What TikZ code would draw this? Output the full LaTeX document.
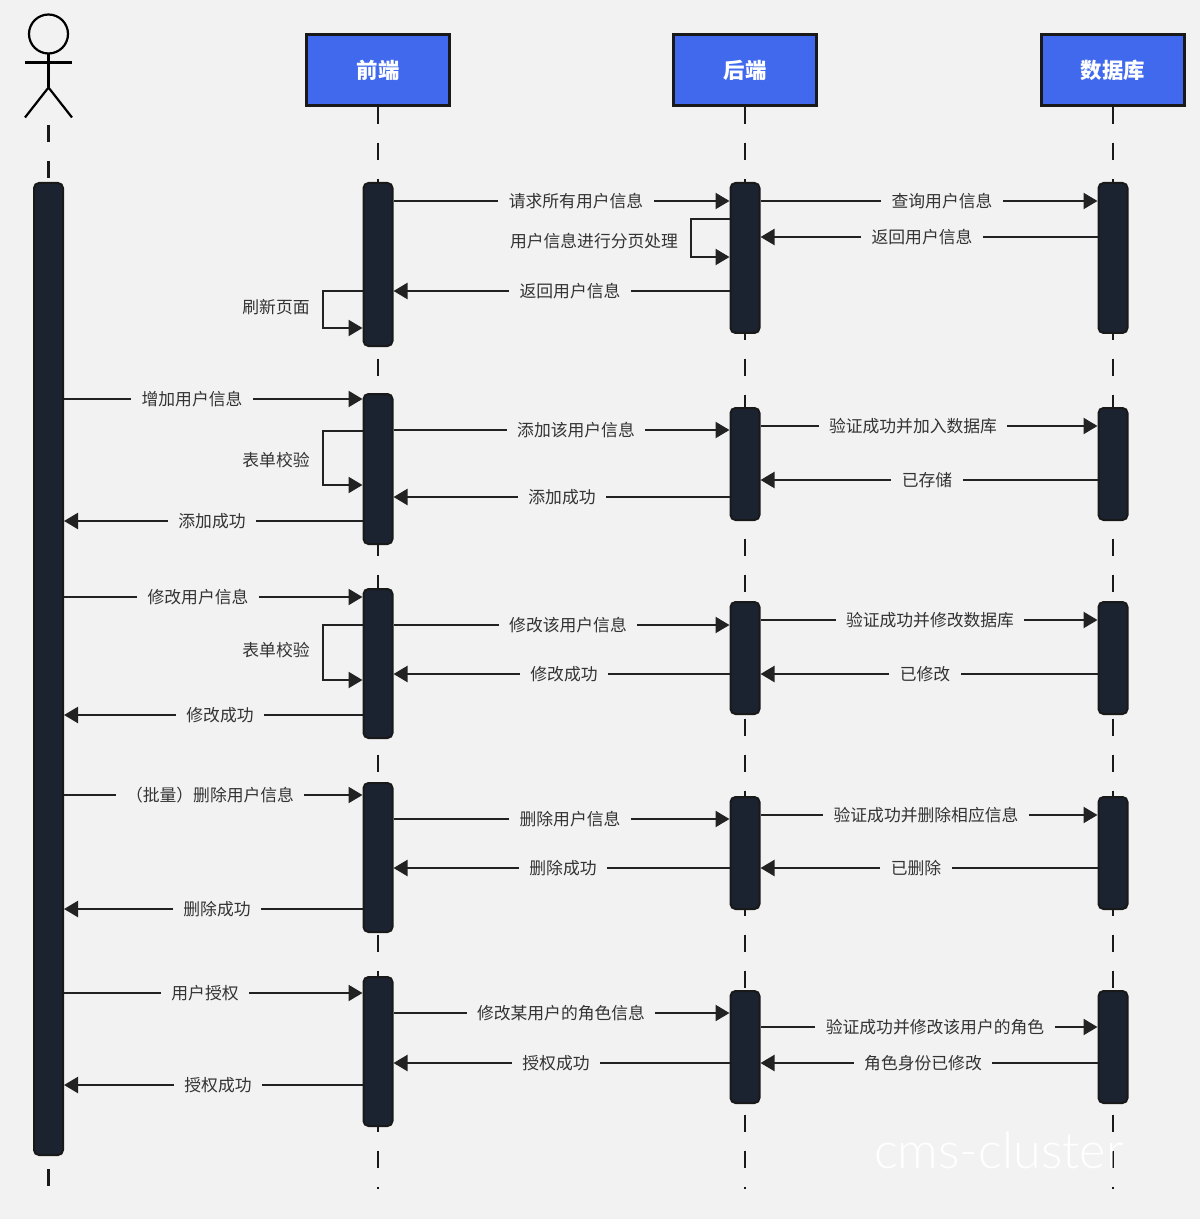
\documentclass[tikz,border=0pt]{standalone}
\usepackage{fontspec}
\setmainfont{Noto Sans CJK SC}
\newfontfamily\wmfont{Lato Light}
\usetikzlibrary{arrows.meta}
\definecolor{bgc}{HTML}{F2F2F2}
\definecolor{ink}{HTML}{222222}
\definecolor{hdr}{HTML}{4169EE}
\definecolor{barfill}{HTML}{1B2330}
\definecolor{txt}{HTML}{333333}
\tikzset{
  header/.style={draw=black!90,line width=1.1pt,fill=hdr,text=white,minimum width=71.5pt,minimum height=35.5pt,inner sep=0pt,font=\fontsize{10.7}{12}\selectfont\bfseries},
  bar/.style={draw=black!90,line width=1pt,fill=barfill,rounded corners=2.5pt,minimum width=14.5pt,inner sep=0pt},
  life/.style={draw=black!90,line width=1.1pt,dash pattern=on 8.5pt off 9.5pt},
  msg/.style={draw=ink,line width=1.1pt,-{Triangle[length=7pt,width=8pt]}},
  lab/.style={fill=bgc,text=txt,inner xsep=5.2pt,inner ysep=0.5pt,yshift=-0.1pt,font=\fontsize{8.4}{10}\selectfont},
  looplab/.style={text=txt,inner sep=0pt,yshift=-0.1pt,font=\fontsize{8.4}{10}\selectfont},
  stick/.style={draw=black,line width=1.1pt},
}
\newcommand{\actbar}[4]{%
  \pgfmathsetmacro{\barmid}{(#3+#4)/2}\pgfmathsetmacro{\barh}{(#4-#3)*0.5}%
  \node[bar,minimum height=\barh pt] (#1) at (#2,\barmid) {};}
\newcommand{\msgR}[5]{%
  \draw[msg] (#1.east |- 0,#3) -- (#2.west |- 0,#3);
  \node[lab] (l-#1-#3) at (#4,#3) {#5};}
\newcommand{\msgL}[5]{%
  \draw[msg] (#1.west |- 0,#3) -- (#2.east |- 0,#3);
  \node[lab] (l-#1-#3) at (#4,#3) {#5};}
\newcommand{\selfmsg}[7]{%
  \coordinate (c-#1-#2) at (#4,#2);
  \coordinate (d-#1-#2) at (#4,#3);
  \draw[msg] (#1.west |- 0,#2) -- (c-#1-#2) -- (d-#1-#2) -- (#1.west |- 0,#3);
  \node[looplab] (s-#1-#2) at (#5,#6) {#7};}
\begin{document}
\begin{tikzpicture}[x=0.5pt,y=-0.5pt]
\fill[bgc] (0,0) rectangle (1200,1219);
\useasboundingbox (0,0) rectangle (1200,1219);
% headers
\node[header] (front) at (378,70) {\raisebox{0.5pt}{前端}};
\node[header] (back) at (745,70) {\raisebox{0.5pt}{后端}};
\node[header] (db) at (1113,70) {\raisebox{0.5pt}{数据库}};
% actor
\coordinate (head) at (48.5,34);
\coordinate (neck) at (48.5,53.5);
\coordinate (shL) at (25,62.5);
\coordinate (shR) at (72,62.5);
\coordinate (hip) at (48.5,87.5);
\coordinate (legL) at (25,117.5);
\coordinate (legR) at (72,117.5);
\draw[stick] (head) circle[radius=19.5];
\draw[stick] (neck) -- (hip);
\draw[stick] (shL) -- (shR);
\draw[stick] (legL) -- (hip) -- (legR);
% lifelines
\coordinate (userTop) at (48.5,125);
\coordinate (userEnd) at (48.5,1188);
\coordinate (frontEnd) at (378,1189);
\coordinate (backEnd) at (745,1189);
\coordinate (dbEnd) at (1113,1189);
\draw[life] (userTop) -- (userEnd);
\draw[life] (front.south) -- (frontEnd);
\draw[life] (back.south) -- (backEnd);
\draw[life] (db.south) -- (dbEnd);
% watermark
\node[text=white,inner sep=0pt,font=\wmfont\fontsize{25.2}{28}\selectfont] (wm) at (999,1150) {cms-cluster};
% activations
\actbar{u}{48.5}{183}{1155}
\actbar{fa}{378}{183}{346}
\actbar{fb}{378}{394}{544}
\actbar{fc}{378}{589}{738}
\actbar{fd}{378}{783}{932}
\actbar{fe}{378}{977}{1126}
\actbar{ba}{745}{183}{333}
\actbar{bb}{745}{408}{520}
\actbar{bc}{745}{602}{714}
\actbar{bd}{745}{797}{909}
\actbar{be}{745}{991}{1103}
\actbar{da}{1113}{183}{333}
\actbar{db}{1113}{408}{520}
\actbar{dc}{1113}{602}{714}
\actbar{dd}{1113}{797}{909}
\actbar{de}{1113}{991}{1103}
% group 1
\msgR{fa}{ba}{201}{576}{请求所有用户信息}
\msgR{ba}{da}{201}{942}{查询用户信息}
\msgL{da}{ba}{237}{922}{返回用户信息}
\draw[msg] (ba.west |- 0,219) -- (691,219) -- (691,257) -- (ba.west |- 0,257);
\node[looplab] (s-ba) at (594,241) {用户信息进行分页处理};
\msgL{ba}{fa}{291}{570}{返回用户信息}
\selfmsg{fa}{291}{328}{323}{276}{307}{刷新页面}
% group 2
\msgR{u}{fb}{399}{192}{增加用户信息}
\msgR{fb}{bb}{430}{576}{添加该用户信息}
\selfmsg{fb}{431}{485}{323}{276}{460}{表单校验}
\msgL{bb}{fb}{497}{562}{添加成功}
\msgL{fb}{u}{521}{212}{添加成功}
\msgR{bb}{db}{426}{913}{验证成功并加入数据库}
\msgL{db}{bb}{480}{927}{已存储}
% group 3
\msgR{u}{fc}{597}{198}{修改用户信息}
\msgR{fc}{bc}{625}{568}{修改该用户信息}
\selfmsg{fc}{625}{680}{323}{276}{650}{表单校验}
\msgL{bc}{fc}{674}{564}{修改成功}
\msgL{fc}{u}{715}{220}{修改成功}
\msgR{bc}{dc}{620}{930}{验证成功并修改数据库}
\msgL{dc}{bc}{674}{925}{已修改}
% group 4
\msgR{u}{fd}{795}{210}{（批量）删除用户信息}
\msgR{fd}{bd}{819}{570}{删除用户信息}
\msgL{bd}{fd}{868}{563}{删除成功}
\msgL{fd}{u}{909}{217}{删除成功}
\msgR{bd}{dd}{815}{926}{验证成功并删除相应信息}
\msgL{dd}{bd}{868}{916}{已删除}
% group 5
\msgR{u}{fe}{993}{205}{用户授权}
\msgR{fe}{be}{1013}{561}{修改某用户的角色信息}
\msgL{be}{fe}{1063}{556}{授权成功}
\msgL{fe}{u}{1085}{218}{授权成功}
\msgR{be}{de}{1027}{935}{验证成功并修改该用户的角色}
\msgL{de}{be}{1063}{923}{角色身份已修改}
\end{tikzpicture}
\end{document}
